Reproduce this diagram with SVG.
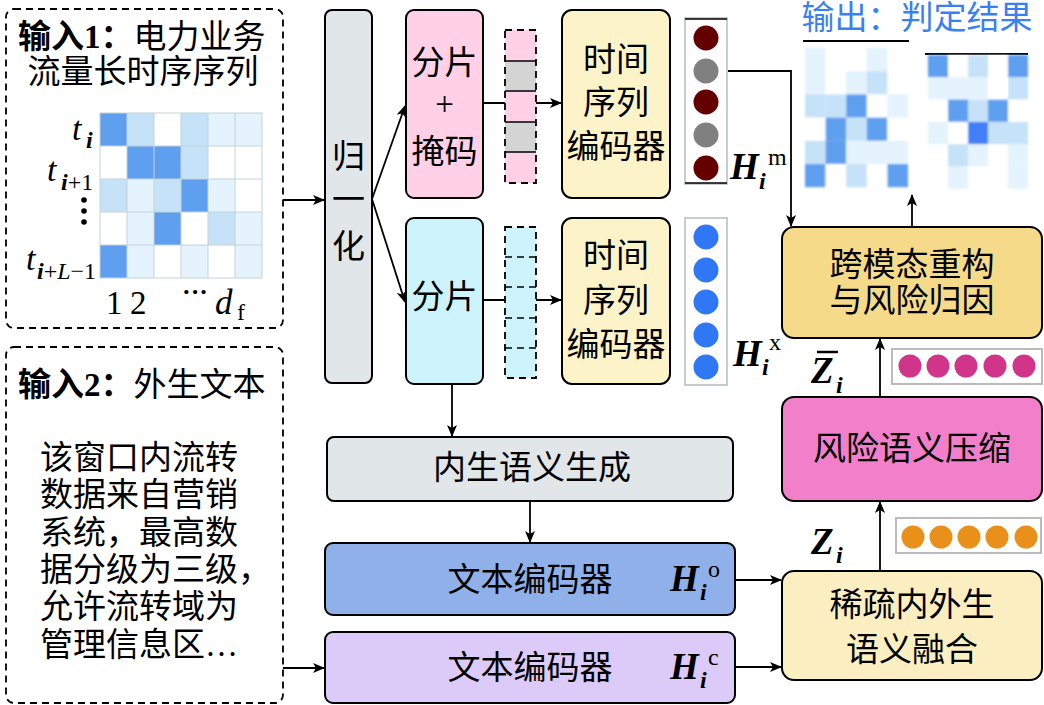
<svg xmlns="http://www.w3.org/2000/svg" width="1044" height="705" viewBox="0 0 1044 705">
<defs>
<style>
.box{stroke:#000;stroke-width:2}
.dash{fill:none;stroke:#000;stroke-width:1.8;stroke-dasharray:7,5}
.cn{font-family:"Liberation Serif","Noto Sans CJK SC",serif;font-size:33px;fill:#000}
.mid{text-anchor:middle;dominant-baseline:central}
.mi{font-family:"Liberation Serif",serif;font-style:italic;fill:#000}
.mb{font-family:"Liberation Serif",serif;font-style:italic;font-weight:bold;fill:#000}
.mr{font-family:"Liberation Serif",serif;fill:#000}
.conn{fill:none;stroke:#000;stroke-width:1.8}
.grid{stroke:#c3d3d8;stroke-width:1}
.D{fill:#5f9ff0}.L{fill:#c6e2f8}.V{fill:#e4f3fd}.W{fill:#ffffff}.X{fill:#3f7ff8}
</style>
<marker id="ah" viewBox="0 0 12 10" refX="11" refY="5" markerWidth="12" markerHeight="10" markerUnits="userSpaceOnUse" orient="auto"><path d="M0,0 L12,5 L0,10 L3,5 z" fill="#000"/></marker>
<filter id="blur" x="-5%" y="-5%" width="110%" height="110%"><feGaussianBlur stdDeviation="1.3"/></filter>
</defs>

<!-- Input 1 -->
<g id="input1">
<rect x="6" y="9" width="277" height="319" rx="8" class="dash"/>
<text x="18" y="37" class="cn" dominant-baseline="central"><tspan font-weight="bold">输入1：</tspan>电力业务</text>
<text x="143" y="72" class="cn mid">流量长时序序列</text>
<g id="heat-in">
<rect x="100" y="113" width="27" height="33" class="D"/><rect x="127" y="113" width="27" height="33" class="L"/><rect x="154" y="113" width="27" height="33" class="W"/><rect x="181" y="113" width="27" height="33" class="L"/><rect x="208" y="113" width="27" height="33" class="V"/><rect x="235" y="113" width="27" height="33" class="V"/>
<rect x="100" y="146" width="27" height="33" class="W"/><rect x="127" y="146" width="27" height="33" class="D"/><rect x="154" y="146" width="27" height="33" class="D"/><rect x="181" y="146" width="27" height="33" class="L"/><rect x="208" y="146" width="27" height="33" class="W"/><rect x="235" y="146" width="27" height="33" class="W"/>
<rect x="100" y="179" width="27" height="33" class="L"/><rect x="127" y="179" width="27" height="33" class="V"/><rect x="154" y="179" width="27" height="33" class="L"/><rect x="181" y="179" width="27" height="33" class="D"/><rect x="208" y="179" width="27" height="33" class="V"/><rect x="235" y="179" width="27" height="33" class="W"/>
<rect x="100" y="212" width="27" height="33" class="W"/><rect x="127" y="212" width="27" height="33" class="V"/><rect x="154" y="212" width="27" height="33" class="D"/><rect x="181" y="212" width="27" height="33" class="W"/><rect x="208" y="212" width="27" height="33" class="L"/><rect x="235" y="212" width="27" height="33" class="V"/>
<rect x="100" y="245" width="27" height="33" class="D"/><rect x="127" y="245" width="27" height="33" class="V"/><rect x="154" y="245" width="27" height="33" class="W"/><rect x="181" y="245" width="27" height="33" class="V"/><rect x="208" y="245" width="27" height="33" class="W"/><rect x="235" y="245" width="27" height="33" class="V"/>
<path class="grid" d="M127,113V278M154,113V278M181,113V278M208,113V278M235,113V278M100,146H262M100,179H262M100,212H262M100,245H262"/>
<rect x="100" y="113" width="162" height="165" fill="none" class="grid"/>
</g>
<text x="72" y="140" class="mi" font-size="34">t</text><text x="86" y="148" class="mb" font-size="24">i</text>
<text x="47" y="181" class="mi" font-size="34">t</text><text x="61" y="190" font-size="24"><tspan class="mb">i</tspan><tspan class="mr">+1</tspan></text>
<circle cx="84" cy="200" r="2.8"/><circle cx="84" cy="211" r="2.8"/><circle cx="84" cy="222" r="2.8"/>
<text x="26" y="270" class="mi" font-size="34">t</text><text x="37" y="279" font-size="24"><tspan class="mb">i</tspan><tspan class="mr">+</tspan><tspan class="mi">L</tspan><tspan class="mr">−1</tspan></text>
<text x="106" y="314" class="mr" font-size="33">1</text><text x="130" y="314" class="mr" font-size="33">2</text>
<text x="182" y="300" class="mr" font-size="26" font-weight="bold">···</text>
<text x="215" y="314" class="mi" font-size="35">d</text><text x="237" y="320" class="mr" font-size="24">f</text>
</g>

<!-- Input 2 -->
<g id="input2">
<rect x="6" y="347" width="277" height="356" rx="8" class="dash"/>
<text x="18" y="385" class="cn" dominant-baseline="central"><tspan font-weight="bold">输入2：</tspan>外生文本</text>
<text x="40" y="458" class="cn" dominant-baseline="central">该窗口内流转</text>
<text x="40" y="495" class="cn" dominant-baseline="central">数据来自营销</text>
<text x="40" y="533" class="cn" dominant-baseline="central">系统，最高数</text>
<text x="40" y="570" class="cn" dominant-baseline="central">据分级为三级，</text>
<text x="40" y="607" class="cn" dominant-baseline="central">允许流转域为</text>
<text x="40" y="645" class="cn" dominant-baseline="central">管理信息区…</text>
</g>

<!-- Normalisation -->
<g id="norm">
<rect x="325" y="10" width="47" height="373" rx="7" class="box" fill="#e1e6e9"/>
<text x="348.5" y="157" class="cn mid">归</text>
<text x="348.5" y="200" class="cn mid">一</text>
<text x="348.5" y="247" class="cn mid">化</text>
</g>

<!-- Patch + mask -->
<g id="patch-mask">
<rect x="406" y="10" width="77" height="188" rx="8" class="box" fill="#ffd0e6"/>
<text x="444.5" y="63" class="cn mid">分片</text>
<text x="444.5" y="104" class="cn mid">+</text>
<text x="444.5" y="152" class="cn mid">掩码</text>
</g>

<!-- Patch -->
<g id="patch">
<rect x="406" y="218" width="77" height="166" rx="8" class="box" fill="#cdf4fc"/>
<text x="444.5" y="297" class="cn mid">分片</text>
</g>

<!-- Connectors -->
<g id="connectors">
<line class="conn" x1="283" y1="200" x2="324" y2="200" marker-end="url(#ah)"/>
<line class="conn" x1="372" y1="199" x2="405" y2="106" marker-end="url(#ah)"/>
<line class="conn" x1="372" y1="199" x2="405" y2="302" marker-end="url(#ah)"/>
<line class="conn" x1="483" y1="103" x2="561" y2="103" marker-end="url(#ah)"/>
<line class="conn" x1="483" y1="300" x2="561" y2="300" marker-end="url(#ah)"/>
<polyline class="conn" points="727,71 791,71 791,226" marker-end="url(#ah)"/>
<line class="conn" x1="912" y1="227" x2="912" y2="195" marker-end="url(#ah)"/>
<line class="conn" x1="880" y1="397" x2="880" y2="339" marker-end="url(#ah)"/>
<line class="conn" x1="880" y1="571" x2="880" y2="502" marker-end="url(#ah)"/>
<line class="conn" x1="452" y1="384" x2="452" y2="436" marker-end="url(#ah)"/>
<line class="conn" x1="530" y1="501" x2="530" y2="542" marker-end="url(#ah)"/>
<line class="conn" x1="735" y1="580" x2="781" y2="580" marker-end="url(#ah)"/>
<line class="conn" x1="735" y1="667" x2="781" y2="667" marker-end="url(#ah)"/>
<line class="conn" x1="283" y1="668" x2="324" y2="668" marker-end="url(#ah)"/>
</g>

<!-- Token strips -->
<g id="tokens-masked">
<rect x="505" y="30" width="31" height="31" fill="#ffd0e6"/>
<rect x="505" y="61" width="31" height="30" fill="#d4d4d4"/>
<rect x="505" y="91" width="31" height="31" fill="#ffd0e6"/>
<rect x="505" y="122" width="31" height="30" fill="#d4d4d4"/>
<rect x="505" y="152" width="31" height="31" fill="#ffd0e6"/>
<path d="M505,61H536M505,91H536M505,122H536M505,152H536" stroke="#000" stroke-width="1.5"/>
<rect x="505" y="30" width="31" height="153" class="dash" stroke-width="1.5"/>
</g>
<g id="tokens">
<rect x="505" y="227" width="31" height="151" fill="#cdf4fc"/>
<path d="M505,257H536M505,287H536M505,318H536M505,348H536" stroke="#000" stroke-width="1.5" stroke-dasharray="7,5"/>
<rect x="505" y="227" width="31" height="151" class="dash" stroke-width="1.5"/>
</g>

<!-- Time series encoders -->
<g id="ts-encoder-1">
<rect x="562" y="10" width="108" height="188" rx="10" class="box" fill="#fcf3c8"/>
<text x="616" y="60" class="cn mid">时间</text>
<text x="616" y="103" class="cn mid">序列</text>
<text x="616" y="147" class="cn mid">编码器</text>
</g>
<g id="ts-encoder-2">
<rect x="562" y="218" width="108" height="166" rx="10" class="box" fill="#fcf3c8"/>
<text x="616" y="256" class="cn mid">时间</text>
<text x="616" y="301" class="cn mid">序列</text>
<text x="616" y="345" class="cn mid">编码器</text>
</g>

<!-- Embeddings -->
<g id="emb-m">
<rect x="685" y="18" width="42" height="166" fill="#fff" stroke="#c5cdcd" stroke-width="2"/>
<path d="M685,19H727M685,183H727" stroke="#000" stroke-width="1.5"/>
<circle cx="706" cy="38" r="12.5" fill="#650000"/>
<circle cx="706" cy="71" r="12.5" fill="#808080"/>
<circle cx="706" cy="102" r="12.5" fill="#650000"/>
<circle cx="706" cy="135" r="12.5" fill="#808080"/>
<circle cx="706" cy="168" r="12.5" fill="#650000"/>
<text x="730" y="179" class="mb" font-size="37">H</text>
<text x="759" y="189" class="mb" font-size="24">i</text>
<text x="768" y="165" class="mr" font-size="24">m</text>
</g>
<g id="emb-x">
<rect x="685" y="218" width="42" height="167" fill="#fff" stroke="#c5cdcd" stroke-width="2"/>
<circle cx="706" cy="237" r="12.5" fill="#2f77f5"/>
<circle cx="706" cy="270" r="12.5" fill="#2f77f5"/>
<circle cx="706" cy="302" r="12.5" fill="#2f77f5"/>
<circle cx="706" cy="335" r="12.5" fill="#2f77f5"/>
<circle cx="706" cy="367" r="12.5" fill="#2f77f5"/>
<text x="733" y="366" class="mb" font-size="37">H</text>
<text x="762" y="375" class="mb" font-size="24">i</text>
<text x="769" y="350" class="mr" font-size="24">x</text>
</g>

<!-- Output -->
<g id="output">
<text x="917" y="18" class="mid" font-family="Liberation Serif,Noto Sans CJK SC,serif" font-size="33" fill="#3b80f2">输出：判定结果</text>
<line x1="803" y1="41" x2="909" y2="41" stroke="#000" stroke-width="2"/>
<g filter="url(#blur)">
<rect x="805" y="48" width="20.6" height="23.2" class="V"/><rect x="825.6" y="48" width="20.6" height="23.2" class="W"/><rect x="846.2" y="48" width="20.6" height="23.2" class="W"/><rect x="866.8" y="48" width="20.6" height="23.2" class="V"/><rect x="887.4" y="48" width="20.6" height="23.2" class="W"/>
<rect x="805" y="71.2" width="20.6" height="23.2" class="V"/><rect x="825.6" y="71.2" width="20.6" height="23.2" class="W"/><rect x="846.2" y="71.2" width="20.6" height="23.2" class="V"/><rect x="866.8" y="71.2" width="20.6" height="23.2" class="L"/><rect x="887.4" y="71.2" width="20.6" height="23.2" class="W"/>
<rect x="805" y="94.4" width="20.6" height="23.2" class="L"/><rect x="825.6" y="94.4" width="20.6" height="23.2" class="L"/><rect x="846.2" y="94.4" width="20.6" height="23.2" class="D"/><rect x="866.8" y="94.4" width="20.6" height="23.2" class="W"/><rect x="887.4" y="94.4" width="20.6" height="23.2" class="V"/>
<rect x="805" y="117.6" width="20.6" height="23.2" class="W"/><rect x="825.6" y="117.6" width="20.6" height="23.2" class="D"/><rect x="846.2" y="117.6" width="20.6" height="23.2" class="L"/><rect x="866.8" y="117.6" width="20.6" height="23.2" class="D"/><rect x="887.4" y="117.6" width="20.6" height="23.2" class="W"/>
<rect x="805" y="140.8" width="20.6" height="23.2" class="L"/><rect x="825.6" y="140.8" width="20.6" height="23.2" class="D"/><rect x="846.2" y="140.8" width="20.6" height="23.2" class="V"/><rect x="866.8" y="140.8" width="20.6" height="23.2" class="V"/><rect x="887.4" y="140.8" width="20.6" height="23.2" class="V"/>
<rect x="805" y="164" width="20.6" height="23.2" class="D"/><rect x="825.6" y="164" width="20.6" height="23.2" class="W"/><rect x="846.2" y="164" width="20.6" height="23.2" class="L"/><rect x="866.8" y="164" width="20.6" height="23.2" class="W"/><rect x="887.4" y="164" width="20.6" height="23.2" class="D"/>
</g>
<line x1="925" y1="54" x2="1028" y2="54" stroke="#000" stroke-width="2"/>
<g filter="url(#blur)">
<rect x="928" y="55" width="20" height="22.3" class="D"/><rect x="948" y="55" width="20" height="22.3" class="W"/><rect x="968" y="55" width="20" height="22.3" class="L"/><rect x="988" y="55" width="20" height="22.3" class="W"/><rect x="1008" y="55" width="20" height="22.3" class="D"/>
<rect x="928" y="77.3" width="20" height="22.3" class="V"/><rect x="948" y="77.3" width="20" height="22.3" class="V"/><rect x="968" y="77.3" width="20" height="22.3" class="V"/><rect x="988" y="77.3" width="20" height="22.3" class="W"/><rect x="1008" y="77.3" width="20" height="22.3" class="L"/>
<rect x="928" y="99.6" width="20" height="22.3" class="W"/><rect x="948" y="99.6" width="20" height="22.3" class="D"/><rect x="968" y="99.6" width="20" height="22.3" class="L"/><rect x="988" y="99.6" width="20" height="22.3" class="D"/><rect x="1008" y="99.6" width="20" height="22.3" class="W"/>
<rect x="928" y="121.9" width="20" height="22.3" class="V"/><rect x="948" y="121.9" width="20" height="22.3" class="W"/><rect x="968" y="121.9" width="20" height="22.3" class="X"/><rect x="988" y="121.9" width="20" height="22.3" class="L"/><rect x="1008" y="121.9" width="20" height="22.3" class="L"/>
<rect x="928" y="144.2" width="20" height="22.3" class="W"/><rect x="948" y="144.2" width="20" height="22.3" class="L"/><rect x="968" y="144.2" width="20" height="22.3" class="V"/><rect x="988" y="144.2" width="20" height="22.3" class="W"/><rect x="1008" y="144.2" width="20" height="22.3" class="V"/>
<rect x="928" y="166.5" width="20" height="22.3" class="W"/><rect x="948" y="166.5" width="20" height="22.3" class="V"/><rect x="968" y="166.5" width="20" height="22.3" class="W"/><rect x="988" y="166.5" width="20" height="22.3" class="W"/><rect x="1008" y="166.5" width="20" height="22.3" class="V"/>
</g>
<rect x="988" y="77" width="20" height="21" fill="#fff"/>
</g>

<!-- Reconstruction -->
<g id="recon">
<rect x="782" y="227" width="260" height="111" rx="12" class="box" fill="#f5da8a"/>
<text x="912" y="265" class="cn mid">跨模态重构</text>
<text x="912" y="301" class="cn mid">与风险归因</text>
</g>

<!-- Z bar strip -->
<g id="zbar">
<rect x="892" y="349" width="150" height="35" fill="#fff" stroke="#bbbbbb" stroke-width="2"/>
<circle cx="910" cy="366" r="11.5" fill="#d0358a"/>
<circle cx="938" cy="366" r="11.5" fill="#d0358a"/>
<circle cx="966" cy="366" r="11.5" fill="#d0358a"/>
<circle cx="995" cy="366" r="11.5" fill="#d0358a"/>
<circle cx="1024" cy="366" r="11.5" fill="#d0358a"/>
<text x="811" y="383" class="mb" font-size="37">Z</text>
<line x1="817" y1="352" x2="838" y2="352" stroke="#000" stroke-width="2.5"/>
<text x="836" y="393" class="mb" font-size="24">i</text>
</g>

<!-- Compression -->
<g id="compress">
<rect x="782" y="397" width="260" height="104" rx="12" class="box" fill="#f27fca"/>
<text x="912" y="449" class="cn mid">风险语义压缩</text>
</g>

<!-- Z strip -->
<g id="z">
<rect x="896" y="518" width="145" height="35" fill="#fff" stroke="#bbbbbb" stroke-width="2"/>
<circle cx="913" cy="537" r="11.5" fill="#e8901a"/>
<circle cx="941" cy="537" r="11.5" fill="#e8901a"/>
<circle cx="969" cy="537" r="11.5" fill="#e8901a"/>
<circle cx="997" cy="537" r="11.5" fill="#e8901a"/>
<circle cx="1026" cy="537" r="11.5" fill="#e8901a"/>
<text x="811" y="554" class="mb" font-size="37">Z</text>
<text x="836" y="563" class="mb" font-size="24">i</text>
</g>

<!-- Fusion -->
<g id="fusion">
<rect x="782" y="571" width="260" height="109" rx="12" class="box" fill="#fbeec0"/>
<text x="912" y="605" class="cn mid">稀疏内外生</text>
<text x="912" y="650" class="cn mid">语义融合</text>
</g>

<!-- Endogenous semantics -->
<g id="endo">
<rect x="327" y="437" width="406" height="64" rx="7" class="box" fill="#e1e6e9"/>
<text x="532" y="468" class="cn mid">内生语义生成</text>
</g>

<!-- Text encoders -->
<g id="text-enc-o">
<rect x="325" y="543" width="410" height="72" rx="8" class="box" fill="#8fb0e8"/>
<text x="530" y="580" class="cn mid">文本编码器</text>
<text x="670" y="591" class="mb" font-size="37">H</text>
<text x="700" y="600" class="mb" font-size="24">i</text>
<text x="708" y="577" class="mr" font-size="24">o</text>
</g>
<g id="text-enc-c">
<rect x="325" y="632" width="410" height="71" rx="8" class="box" fill="#dccbf8"/>
<text x="530" y="668" class="cn mid">文本编码器</text>
<text x="670" y="679" class="mb" font-size="37">H</text>
<text x="700" y="688" class="mb" font-size="24">i</text>
<text x="708" y="665" class="mr" font-size="24">c</text>
</g>
</svg>
